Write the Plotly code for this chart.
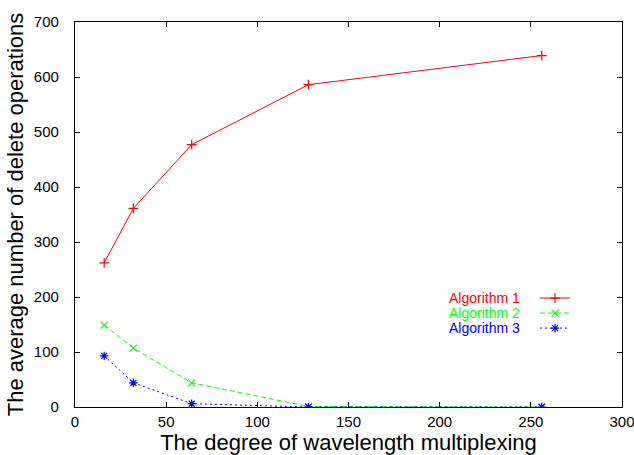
import plotly.graph_objects as go

x_vals = [16, 32, 64, 128, 256]
alg1 = [262, 361, 477, 586, 639]
alg2 = [149, 107, 44, 1, 0]
alg3 = [93, 44, 6, 0, 0]
names = ["Algorithm 1", "Algorithm 2", "Algorithm 3"]
colors = ["#ff0000", "#00ff00", "#0000ff"]
dashes = ["solid", "5px,3px", "2px,3px"]
symbols = ["cross-thin-open", "x-thin-open", "asterisk-open"]
legend_ids = ["legend", "legend2", "legend3"]

fig = go.Figure()
for ys, nm, c, d, s, lg in zip([alg1, alg2, alg3], names, colors, dashes, symbols, legend_ids):
    fig.add_trace(go.Scatter(
        x=x_vals, y=ys, mode="lines+markers", name=" ", legend=lg,
        line=dict(color=c, width=1, dash=d),
        marker=dict(symbol=s, size=7, line=dict(color=c, width=1.2), color=c),
    ))

font = "Liberation Sans, Arial, Helvetica, sans-serif"
row_y = [0.283, 0.244, 0.205]
leg_common = dict(x=0.841, xanchor="left", yanchor="middle",
                  bgcolor="rgba(0,0,0,0)", font=dict(size=9),
                  tracegroupgap=0, itemwidth=30)
fig.update_layout(
    width=634, height=455,
    margin=dict(l=75, r=12, t=22, b=48),
    plot_bgcolor="white", paper_bgcolor="white",
    font=dict(family=font, size=15, color="black"),
    showlegend=True,
    legend=dict(y=row_y[0], **leg_common),
    legend2=dict(y=row_y[1], **leg_common),
    legend3=dict(y=row_y[2], **leg_common),
    xaxis=dict(range=[0, 300], dtick=50, showgrid=False, zeroline=False,
               ticks="inside", ticklen=5, tickcolor="black", mirror="ticks",
               showline=True, linecolor="black", linewidth=1.3,
               automargin=False, ticklabelstandoff=1, ticklabeloverflow="allow",
               title=dict(text="The degree of wavelength multiplexing",
                          font=dict(size=22), standoff=2)),
    yaxis=dict(range=[0, 700], dtick=100, showgrid=False, zeroline=False,
               ticks="inside", ticklen=5, tickcolor="black", mirror="ticks",
               showline=True, linecolor="black", linewidth=1.3,
               automargin=False, ticklabelstandoff=12,
               title=dict(text="The average number of delete operations",
                          font=dict(size=22), standoff=4)),
)
for i, (nm, c) in enumerate(zip(names, colors)):
    fig.add_annotation(x=0.815, y=row_y[i], xref="paper", yref="paper",
                       xanchor="right", yanchor="middle", showarrow=False,
                       borderpad=0,
                       text=nm, font=dict(size=14, color=c))

fig.write_html("out.html", config={"displayModeBar": False},
               post_script="document.body.style.margin='0';")
